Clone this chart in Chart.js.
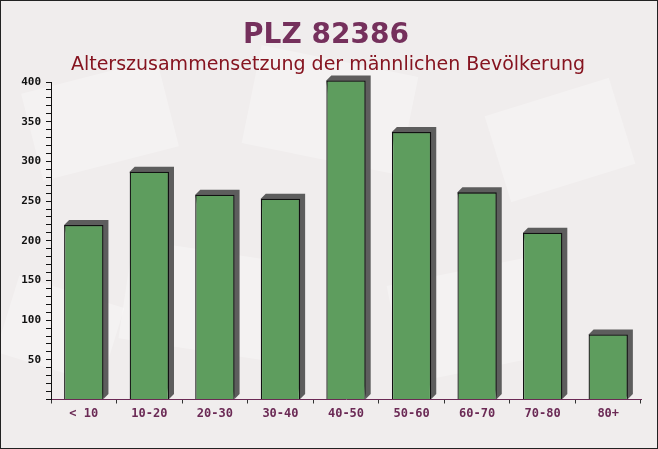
<!DOCTYPE html>
<html>
<head>
<meta charset="utf-8">
<script src="https://cdn.jsdelivr.net/npm/chart.js@4/dist/chart.umd.min.js"></script>
<style>
  html, body { margin: 0; padding: 0; background: #f1eeee; }
  #wrap { width: 658px; height: 449px; position: relative; }
</style>
</head>
<body>
<div id="wrap"><canvas id="c" width="658" height="449"></canvas></div>
<script>
const titleText = "PLZ 82386";
const subtitleText = "Alterszusammensetzung der männlichen Bevölkerung";
const categories = ["< 10", "10-20", "20-30", "30-40", "40-50", "50-60", "60-70", "70-80", "80+"];
const maleCounts = [220, 287, 258, 253, 402, 337, 261, 210, 82];
const yMin = 0;
const yMax = 400;
const yMinorStep = 10;
const yLabelStep = 50;

const bgPlugin = {
  id: 'bg',
  beforeDraw(chart) {
    const ctx = chart.ctx;
    ctx.save();
    ctx.fillStyle = '#f0eded';
    ctx.fillRect(0, 0, chart.width, chart.height);
    ctx.fillStyle = 'rgba(255,255,255,0.28)';
    const shapes = [[100,120,140,90,-0.25],[330,110,160,100,0.2],[560,140,130,90,-0.3],[200,300,150,100,0.15],[470,320,150,100,-0.2],[60,330,110,80,0.3]];
    shapes.forEach(s => {
      ctx.save();
      ctx.translate(s[0], s[1]);
      ctx.rotate(s[4]);
      ctx.fillRect(-s[2]/2, -s[3]/2, s[2], s[3]);
      ctx.restore();
    });
    ctx.restore();
  },
  afterDraw(chart) {
    const ctx = chart.ctx;
    ctx.save();
    ctx.textAlign = 'center';
    ctx.textBaseline = 'alphabetic';
    ctx.fillStyle = '#75305c';
    ctx.font = 'bold 28px "DejaVu Sans"';
    ctx.fillText(titleText, 326, 43);
    ctx.fillStyle = '#861420';
    ctx.font = '19px "DejaVu Sans"';
    ctx.fillText(subtitleText, 328, 70);
    ctx.strokeStyle = '#222';
    ctx.lineWidth = 1;
    ctx.strokeRect(0.5, 0.5, chart.width - 1, chart.height - 1);
    ctx.restore();
  }
};

const depthPlugin = {
  id: 'depth',
  beforeDatasetsDraw(chart) {
    const ctx = chart.ctx;
    const d = 5;
    ctx.save();
    ctx.fillStyle = 'rgba(80,80,80,0.92)';
    chart.getDatasetMeta(0).data.forEach(bar => {
      const p = bar.getProps(['x', 'y', 'base', 'width'], true);
      const l = p.x - p.width / 2, r = p.x + p.width / 2;
      ctx.beginPath();
      ctx.moveTo(l, p.y);
      ctx.lineTo(l + d, p.y - d);
      ctx.lineTo(r + d, p.y - d);
      ctx.lineTo(r + d, p.base - d);
      ctx.lineTo(r, p.base);
      ctx.closePath();
      ctx.fill();
    });
    ctx.restore();
  }
};

new Chart(document.getElementById('c'), {
  type: 'bar',
  data: {
    labels: categories,
    datasets: [{
      data: maleCounts,
      backgroundColor: '#5e9d5e',
      borderColor: '#111',
      borderWidth: 1.3,
      barPercentage: 0.6,
      categoryPercentage: 1.0,
      clip: false
    }]
  },
  options: {
    responsive: false,
    animation: false,
    devicePixelRatio: 1,
    layout: { padding: { top: 82, right: 17, left: 0, bottom: 0 } },
    plugins: { legend: { display: false }, title: { display: false }, tooltip: { enabled: false } },
    scales: {
      x: {
        afterFit: s => { s.height = 49.5; },
        grid: { display: true, drawOnChartArea: false, tickLength: 4, color: '#333', offset: true },
        border: { display: true, color: '#6b2a55', width: 1 },
        ticks: { color: '#6b2a55', font: { family: '"DejaVu Sans Mono"', size: 12, weight: 'bold' }, padding: 3, maxRotation: 0, autoSkip: false }
      },
      y: {
        min: yMin, max: yMax,
        afterFit: s => { s.width = 51; },
        grid: { display: true, drawOnChartArea: false, tickLength: 5, color: '#111' },
        border: { display: true, color: '#111', width: 1 },
        ticks: {
          stepSize: yMinorStep, autoSkip: false, color: '#111', padding: 5,
          font: { family: '"DejaVu Sans Mono"', size: 11, weight: 'bold' },
          callback: v => (v !== 0 && v % yLabelStep === 0) ? String(v) : ''
        }
      }
    }
  },
  plugins: [bgPlugin, depthPlugin]
});
</script>
</body>
</html>
